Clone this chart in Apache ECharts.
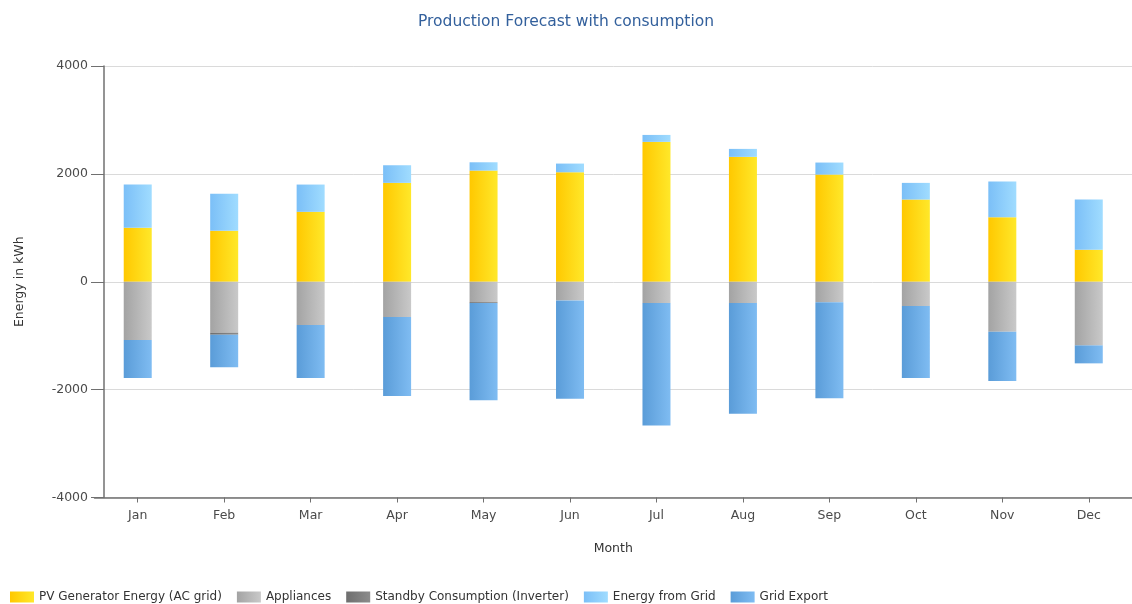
<!DOCTYPE html>
<html>
<head>
<meta charset="utf-8">
<script src="https://cdn.jsdelivr.net/npm/echarts@6/dist/echarts.min.js"></script>
<style>
  html, body { margin: 0; padding: 0; background: #ffffff; }
  #chart { width: 1132px; height: 604px; }
</style>
</head>
<body>
<div id="chart"></div>
<script>
const months = ['Jan', 'Feb', 'Mar', 'Apr', 'May', 'Jun', 'Jul', 'Aug', 'Sep', 'Oct', 'Nov', 'Dec'];
const pvGenerator = [1000, 945, 1296, 1833, 2061, 2030, 2593, 2315, 1987, 1524, 1197, 593];
const appliances = [-1081, -945, -804, -655, -378, -346, -396, -396, -378, -451, -926, -1180];
const standby = [0, -37, 0, 0, -18, 0, 0, 0, 0, 0, 0, 0];
const energyFromGrid = [802, 685, 506, 327, 154, 161, 129, 148, 223, 309, 661, 931];
const gridExport = [-704, -605, -981, -1463, -1802, -1821, -2271, -2049, -1783, -1334, -915, -333];
const yTicks = [-4000, -2000, 0, 2000, 4000];

const FONT = 'DejaVu Sans';
function grad(c1, c2) {
  return new echarts.graphic.LinearGradient(0, 0, 1, 0, [
    { offset: 0, color: c1 },
    { offset: 1, color: c2 }
  ]);
}

const chart = echarts.init(document.getElementById('chart'), null, { renderer: 'canvas' });

function barSeries(name, data, c1, c2) {
  return {
    name: name,
    type: 'bar',
    stack: 'total',
    barWidth: 28,
    data: data,
    itemStyle: { color: grad(c1, c2) },
    emphasis: { disabled: true }
  };
}

chart.setOption({
  animation: false,
  backgroundColor: '#ffffff',
  textStyle: { fontFamily: FONT },
  title: {
    text: 'Production Forecast with consumption',
    left: 'center',
    top: 9,
    textStyle: { color: '#33609c', fontSize: 15.5, fontWeight: 'normal', fontFamily: FONT }
  },
  legend: {
    left: 10,
    top: 591,
    padding: 0,
    itemWidth: 24,
    itemHeight: 11,
    itemGap: 15,
    icon: 'rect',
    textStyle: { color: '#333333', fontSize: 12, fontFamily: FONT },
    data: ['PV Generator Energy (AC grid)', 'Appliances', 'Standby Consumption (Inverter)', 'Energy from Grid', 'Grid Export']
  },
  grid: {
    left: 94.5,
    top: 66,
    width: 1050,
    height: 431.5,
    containLabel: false
  },
  xAxis: {
    type: 'category',
    data: months,
    boundaryGap: true,
    name: 'Month',
    nameLocation: 'middle',
    nameGap: 45,
    nameTextStyle: { color: '#333333', fontSize: 12.5, fontFamily: FONT },
    axisLine: { show: true, onZero: false, lineStyle: { color: '#707070', width: 1.5 } },
    axisTick: { show: true, alignWithLabel: true, length: 5, lineStyle: { color: '#707070' } },
    axisLabel: { color: '#4a4a4a', fontSize: 12.5, margin: 12, fontFamily: FONT },
    splitLine: { show: false }
  },
  yAxis: {
    type: 'value',
    min: yTicks[0],
    max: yTicks[yTicks.length - 1],
    interval: 2000,
    offset: -9.5,
    name: 'Energy in kWh',
    nameLocation: 'middle',
    nameGap: 78,
    nameRotate: 90,
    nameTextStyle: { color: '#333333', fontSize: 12.5, fontFamily: FONT },
    axisLine: { show: true, lineStyle: { color: '#707070', width: 1.5 } },
    axisTick: { show: true, length: 13, lineStyle: { color: '#707070' } },
    axisLabel: { color: '#4a4a4a', fontSize: 12.5, margin: 16, fontFamily: FONT, formatter: function (v) { return String(v); } },
    splitLine: { show: true, lineStyle: { color: '#dadada', width: 1 } }
  },
  series: [
    barSeries('PV Generator Energy (AC grid)', pvGenerator, '#ffc800', '#ffe82a'),
    barSeries('Appliances', appliances, '#a3a3a3', '#c9c9c9'),
    barSeries('Standby Consumption (Inverter)', standby, '#6e6e6e', '#8c8c8c'),
    barSeries('Energy from Grid', energyFromGrid, '#7bbff7', '#a0dcff'),
    barSeries('Grid Export', gridExport, '#5a9cd8', '#7fbcf2')
  ]
});
</script>
</body>
</html>
